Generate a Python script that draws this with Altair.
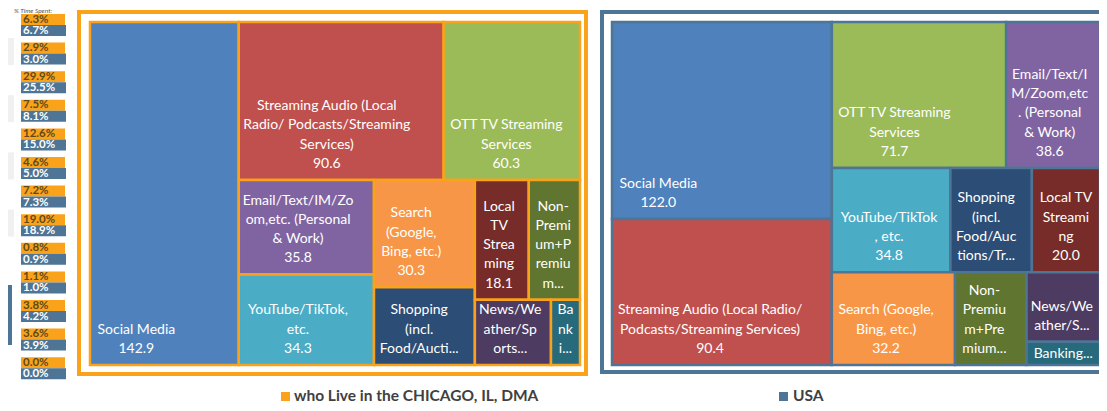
import altair as alt
import pandas as pd

# ---------------- data ----------------
categories = ["Social Media", "Streaming Audio", "OTT TV Streaming Services",
              "Email/Text/IM/Zoom", "YouTube/TikTok", "Search", "Shopping",
              "Local TV Streaming", "Non-Premium+Premium", "News/Weather/Sports", "Banking"]
chicago_values = [142.9, 90.6, 60.3, 35.8, 34.3, 30.3, 22.0, 18.1, 17.2, 13.9, 5.3]
usa_values = [122.0, 90.4, 71.7, 38.6, 34.8, 32.2, 23.9, 20.0, 18.7, 14.4, 4.8]
cell_colors = ["#4F81BD", "#C0504D", "#9BBB59", "#8064A2", "#4BACC6", "#F79646",
               "#2C4D75", "#772C2A", "#5F7530", "#4D3B62", "#276A7C"]

chicago_lines = [
    ["Social Media"],
    ["Streaming Audio (Local", "Radio/ Podcasts/Streaming", "Services)"],
    ["OTT TV Streaming", "Services"],
    ["Email/Text/IM/Zo", "om,etc. (Personal", "& Work)"],
    ["YouTube/TikTok,", "etc."],
    ["Search", "(Google,", "Bing, etc.)"],
    ["Shopping", "(incl.", "Food/Aucti..."],
    ["Local", "TV", "Strea", "ming"],
    ["Non-", "Premi", "um+P", "remiu", "m..."],
    ["News/We", "ather/Sp", "orts..."],
    ["Ba", "nk", "i..."],
]
chicago_show_value = [True, True, True, True, True, True, False, True, False, False, False]

usa_lines = [
    ["Social Media"],
    ["Streaming Audio (Local Radio/", "Podcasts/Streaming Services)"],
    ["OTT TV Streaming", "Services"],
    ["Email/Text/I", "M/Zoom,etc", ". (Personal", "& Work)"],
    ["YouTube/TikTok", ", etc."],
    ["Search (Google,", "Bing, etc.)"],
    ["Shopping", "(incl.", "Food/Auc", "tions/Tr..."],
    ["Local TV", "Streami", "ng"],
    ["Non-", "Premiu", "m+Pre", "mium..."],
    ["News/We", "ather/S..."],
    ["Banking..."],
]
usa_show_value = [True, True, True, True, True, True, False, True, False, False, False]

chicago_pct = [6.3, 2.9, 29.9, 7.5, 12.6, 4.6, 7.2, 19.0, 0.8, 1.1, 3.8, 3.6, 0.0]
usa_pct = [6.7, 3.0, 25.5, 8.1, 15.0, 5.0, 7.3, 18.9, 0.9, 1.0, 4.2, 3.9, 0.0]
strip_title = "% Time Spent:"
legend_labels = ["who Live in the CHICAGO, IL, DMA", "USA"]

# treemap arrangement (category indices; "h" = side by side, "v" = stacked)
chicago_tree = ("h", [0, ("v", [("h", [1, 2]),
                                ("h", [("v", [3, 4]), ("v", [5, 6]),
                                       ("v", [("h", [7, 8]), ("h", [9, 10])])])])])
usa_tree = ("h", [("v", [0, 1]),
                  ("v", [("h", [2, 3]), ("h", [4, 6, 7]), ("h", [5, 8, ("v", [9, 10])])])])

# ---------------- styling / layout constants ----------------
ORANGE = "#F9A21A"
BLUE = "#4E7595"
FONT = "Lato"
PAGE = 8
W, H = 1091, 395
CHI_BOX = (90, 22, 580, 365)
USA_BOX = (612, 22, 1100, 365)
CHI_FRAME = (79, 12, 586, 374)
USA_FRAME = (602, 12, 1130, 372)

xs = alt.Scale(domain=[PAGE, PAGE + W], range=[0, W], nice=False, zero=False)
ys = alt.Scale(domain=[PAGE, PAGE + H], range=[0, H], nice=False, zero=False)


def size(node, vals):
    if isinstance(node, int):
        return vals[node]
    return sum(size(k, vals) for k in node[1])


def layout(node, vals, x0, y0, x1, y1, out):
    if isinstance(node, int):
        out.append((node, x0, y0, x1, y1))
        return
    d, kids = node
    tot = sum(size(k, vals) for k in kids)
    pos = x0 if d == "h" else y0
    for k in kids:
        s = size(k, vals) / tot
        if d == "h":
            nx = pos + (x1 - x0) * s
            layout(k, vals, pos, y0, nx, y1, out)
            pos = nx
        else:
            ny = pos + (y1 - y0) * s
            layout(k, vals, x0, pos, x1, ny, out)
            pos = ny


def tw(s, fs=14):
    w = 0.0
    for c in s:
        if c in "il.,;:'|!()[]/ jftrI-":
            w += 0.27
        elif c in "mwMW%":
            w += 0.8
        elif c.isupper():
            w += 0.62
        elif c.isdigit():
            w += 0.55
        else:
            w += 0.52
    return w * fs


cell_rows, label_rows = [], []
for tree, vals, lines_all, show, box, stroke in [
        (chicago_tree, chicago_values, chicago_lines, chicago_show_value, CHI_BOX, ORANGE),
        (usa_tree, usa_values, usa_lines, usa_show_value, USA_BOX, BLUE)]:
    out = []
    layout(tree, vals, *box, out)
    for idx, x0, y0, x1, y1 in out:
        cell_rows.append(dict(x0=x0, y0=y0, x1=x1, y1=y1, fill=cell_colors[idx],
                              stroke=stroke, cat=categories[idx]))
        lines = list(lines_all[idx])
        if show[idx]:
            lines.append(f"{vals[idx]:.1f}")
        bw = max(tw(l) for l in lines)
        cx = min(x0 + 7 + bw / 2, (x0 + x1) / 2)
        ylast = max(y1 - 16, (y0 + y1) / 2 + 1)
        n = len(lines)
        for i, l in enumerate(lines):
            label_rows.append(dict(x=cx, y=ylast - (n - 1 - i) * 19.3, text=l))

cells = pd.DataFrame(cell_rows)
labels = pd.DataFrame(label_rows)

# percent strip
PITCH = 28.6
STRIP_TOP = 14
strip_o, strip_b = [], []
for i, (a, b) in enumerate(zip(chicago_pct, usa_pct)):
    top = STRIP_TOP + PITCH * i
    strip_o.append(dict(x0=21, x1=65, y0=top, y1=top + 11, tx=23, ty=top + 5.5, text=f"{a:.1f}%"))
    strip_b.append(dict(x0=21, x1=66, y0=top + 11, y1=top + 22, tx=23, ty=top + 17, text=f"{b:.1f}%"))
so = pd.DataFrame(strip_o)
sb = pd.DataFrame(strip_b)

# clipped side-panel fragments at far left
side = pd.DataFrame([dict(x0=0, x1=14, y0=13 + PITCH * r + 25, y1=13 + PITCH * r + 52, fill="#F0F0F0")
                     for r in [0, 2, 4, 6]] +
                    [dict(x0=0, x1=12, y0=285, y1=345, fill="#4E7595")])

frames = pd.DataFrame([dict(x0=CHI_FRAME[0], y0=CHI_FRAME[1], x1=CHI_FRAME[2], y1=CHI_FRAME[3], stroke=ORANGE),
                       dict(x0=USA_FRAME[0], y0=USA_FRAME[1], x1=USA_FRAME[2], y1=USA_FRAME[3], stroke=BLUE)])

legend = pd.DataFrame([dict(sx0=281, sx1=290, sy0=392, sy1=401, tx=294, ty=401, text=legend_labels[0], c=ORANGE),
                       dict(sx0=779, sx1=788, sy0=392, sy1=401, tx=793, ty=401, text=legend_labels[1], c=BLUE)])

title = pd.DataFrame([dict(x=14, y=13.6, text=strip_title)])


def XQ(f):
    return alt.X(f"{f}:Q", scale=xs, axis=None)


def YQ(f):
    return alt.Y(f"{f}:Q", scale=ys, axis=None)


rect_enc = dict(x=XQ("x0"), x2=alt.X2("x1:Q"), y=YQ("y0"), y2=alt.Y2("y1:Q"))

side_layer = alt.Chart(side).mark_rect(clip=True).encode(**rect_enc, fill=alt.Fill("fill:N", scale=None))

so_rect = alt.Chart(so).mark_rect(color=ORANGE).encode(**rect_enc)
so_text = alt.Chart(so).mark_text(font=FONT, fontSize=11.5, fontWeight="bold", align="left",
                                  baseline="middle", color="#5E4A1E").encode(
    x=XQ("tx"), y=YQ("ty"), text="text:N")
sb_rect = alt.Chart(sb).mark_rect(color=BLUE).encode(**rect_enc)
sb_text = alt.Chart(sb).mark_text(font=FONT, fontSize=11.5, fontWeight="bold", align="left",
                                  baseline="middle", color="white").encode(
    x=XQ("tx"), y=YQ("ty"), text="text:N")
title_layer = alt.Chart(title).mark_text(font=FONT, fontSize=6.5, fontStyle="italic", align="left",
                                         baseline="bottom", color="#555555").encode(
    x=XQ("x"), y=YQ("y"), text="text:N")

frame_layer = alt.Chart(frames).mark_rect(fillOpacity=0, strokeWidth=4, clip=True).encode(
    **rect_enc, stroke=alt.Stroke("stroke:N", scale=None))

cell_layer = alt.Chart(cells).mark_rect(strokeWidth=2.5).encode(
    **rect_enc, fill=alt.Fill("fill:N", scale=None), stroke=alt.Stroke("stroke:N", scale=None),
    tooltip=["cat:N"])

label_layer = alt.Chart(labels).mark_text(font=FONT, fontSize=14, align="center", baseline="middle",
                                          color="white").encode(x=XQ("x"), y=YQ("y"), text="text:N")

leg_sq = alt.Chart(legend).mark_rect().encode(
    x=XQ("sx0"), x2=alt.X2("sx1:Q"), y=YQ("sy0"), y2=alt.Y2("sy1:Q"), fill=alt.Fill("c:N", scale=None))
leg_tx = alt.Chart(legend).mark_text(font=FONT, fontSize=15.5, fontWeight="bold", align="left",
                                     baseline="alphabetic", color="#404040").encode(
    x=XQ("tx"), y=YQ("ty"), text="text:N")

chart = alt.layer(side_layer, so_rect, so_text, sb_rect, sb_text, title_layer,
                  frame_layer, cell_layer, label_layer, leg_sq, leg_tx).properties(
    width=W, height=H, padding=0, autosize="none", background="white"
).configure_view(stroke=None)

chart.save("out.html", embed_options={"renderer": "svg", "actions": False})
